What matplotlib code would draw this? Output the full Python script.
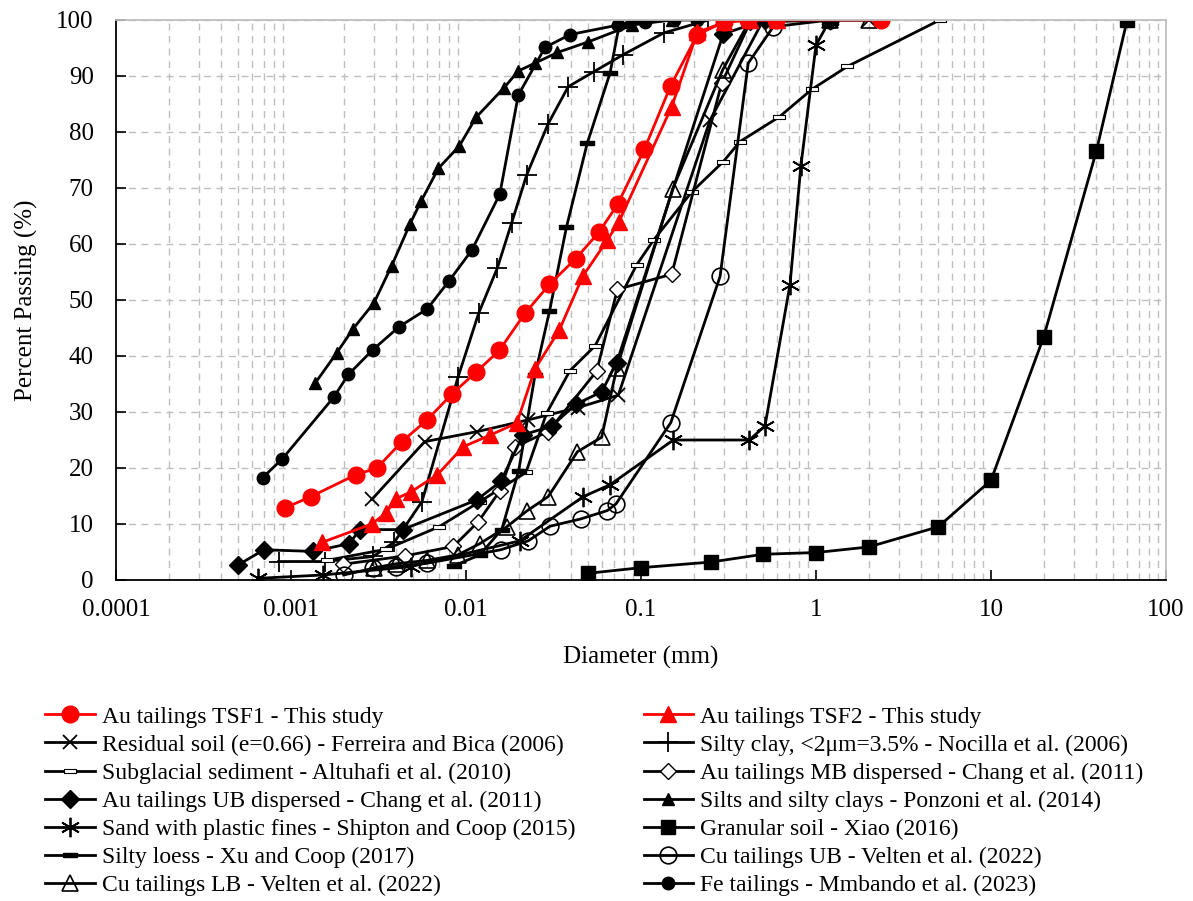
import matplotlib.pyplot as plt
from matplotlib.ticker import FixedLocator, NullFormatter, FuncFormatter, LogLocator

plt.rcParams['font.family'] = ['Liberation Serif', 'DejaVu Serif']

# --- data (diameter in mm, percent passing) ---
tsf1_d = [0.00093, 0.0013, 0.00235, 0.0031, 0.0043, 0.006, 0.0083, 0.0114, 0.0155, 0.0217,
          0.030, 0.0424, 0.0575, 0.0736, 0.1045, 0.148, 0.21, 0.298, 0.41, 0.59, 2.36]
tsf1_p = [12.9, 14.9, 18.8, 20.0, 24.7, 28.6, 33.2, 37.1, 41.0, 47.6,
          52.8, 57.4, 62.1, 67.1, 76.9, 88.3, 97.4, 99.6, 100, 100, 100]

tsf2_d = [0.0015, 0.00289, 0.00348, 0.00397, 0.00483, 0.00686, 0.00966, 0.0138, 0.0195,
          0.0248, 0.0341, 0.0464, 0.0642, 0.0749, 0.1497, 0.21, 0.3, 0.42, 0.6]
tsf2_p = [6.7, 10.0, 11.9, 14.5, 15.7, 18.8, 23.8, 25.9, 28.0,
          37.7, 44.6, 54.2, 60.7, 64.0, 84.5, 97.8, 99.6, 100, 100]

resid_d = [0.0029, 0.0058, 0.0116, 0.0227, 0.0438, 0.0742, 0.248, 0.5, 1.2, 2.0]
resid_p = [14.4, 24.7, 26.5, 28.6, 30.8, 33.0, 82.1, 100, 100, 100]

nocilla_d = [0.00085, 0.00156, 0.00295, 0.0039, 0.0056, 0.009, 0.0118, 0.0151, 0.0182,
             0.0222, 0.0295, 0.0384, 0.054, 0.079, 0.135, 0.243]
nocilla_p = [3.3, 3.3, 4.2, 6.8, 14.0, 36.2, 47.6, 55.7, 63.7,
             72.3, 81.5, 88.1, 90.8, 93.8, 97.7, 100]

subgl_d = [0.0016, 0.0035, 0.007, 0.012, 0.022, 0.0289, 0.0393, 0.0546, 0.0945, 0.118,
           0.195, 0.295, 0.368, 0.617, 0.945, 1.51, 5.1]
subgl_p = [3.5, 5.5, 9.5, 14.0, 19.2, 29.8, 37.4, 41.8, 56.3, 60.7,
           69.3, 74.7, 78.3, 82.7, 87.6, 91.7, 100]

mb_d = [0.00197, 0.00448, 0.00847, 0.01175, 0.0156, 0.0191, 0.0295, 0.0558, 0.0733,
        0.1497, 0.289, 0.42, 1.2]
mb_p = [2.8, 4.3, 6.0, 10.4, 15.9, 23.8, 26.5, 37.3, 51.9, 54.6, 88.7, 99.6, 100]

ub_d = [0.0005, 0.0007, 0.00134, 0.00215, 0.00248, 0.00435, 0.0115, 0.0158, 0.0212,
        0.0309, 0.0425, 0.0596, 0.0726, 0.295, 0.51, 1.2]
ub_p = [2.7, 5.4, 5.1, 6.5, 9.0, 9.0, 14.3, 17.6, 25.9, 27.5, 31.4, 33.6, 38.8, 97.5, 100, 100]

ponz_d = [0.00137, 0.00182, 0.00227, 0.00298, 0.00376, 0.00479, 0.00553, 0.00695, 0.00916,
          0.0114, 0.0165, 0.0199, 0.0248, 0.0333, 0.05, 0.0885, 0.15]
ponz_p = [35.1, 40.5, 44.9, 49.5, 56.1, 63.6, 67.6, 73.5, 77.5,
          82.6, 87.9, 90.9, 92.3, 94.2, 96.1, 99.1, 100]

shipton_d = [0.00065, 0.00153, 0.00485, 0.0203, 0.0468, 0.0665, 0.153, 0.416, 0.511,
             0.71, 0.82, 1.0, 1.2]
shipton_p = [0.3, 0.9, 2.4, 7.0, 14.9, 17.0, 25.0, 25.0, 27.5, 52.7, 74.0, 95.5, 100]

xiao_d = [0.05, 0.1, 0.25, 0.5, 1, 2, 5, 10, 20, 40, 60]
xiao_p = [1.2, 2.2, 3.2, 4.6, 4.9, 5.9, 9.5, 17.8, 43.4, 76.6, 100]

loess_d = [0.0085, 0.012, 0.016, 0.02, 0.0248, 0.030, 0.0375, 0.0493, 0.0665, 0.075, 0.09]
loess_p = [2.5, 4.5, 9.0, 19.5, 36.6, 48.0, 63.0, 78.0, 90.5, 99.0, 100]

cuub_d = [0.002, 0.00295, 0.004, 0.006, 0.0158, 0.0227, 0.0302, 0.0452, 0.0642, 0.072,
          0.148, 0.283, 0.41, 0.57, 1.2]
cuub_p = [0.9, 2.1, 2.4, 3.0, 5.4, 7.0, 9.6, 10.9, 12.4, 13.6, 28.1, 54.2, 92.3, 98.8, 100]

culb_d = [0.003, 0.004, 0.006, 0.009, 0.012, 0.0171, 0.0222, 0.0295, 0.0433, 0.0596,
          0.0726, 0.152, 0.293, 0.42, 1.2, 2.0]
culb_p = [2.2, 2.9, 3.5, 4.5, 6.5, 9.5, 12.3, 14.9, 22.9, 25.5, 37.8, 69.9, 91.1, 100, 100, 100]

fe_d = [0.00069, 0.00089, 0.00175, 0.00213, 0.00293, 0.00414, 0.006, 0.008, 0.0108, 0.0156,
        0.0199, 0.0283, 0.0393, 0.074, 0.105, 0.154, 0.21]
fe_p = [18.3, 21.6, 32.6, 36.7, 41.1, 45.2, 48.4, 53.4, 58.9, 68.9,
        86.6, 95.1, 97.4, 99.1, 99.7, 100, 100]

dash = [(-1, -0.32), (1, -0.32), (1, 0.32), (-1, 0.32), (-1, -0.32)]

fig = plt.figure(figsize=(11.93, 9.01), dpi=100)
ax = fig.add_axes([116 / 1193, 1 - 580 / 901, 1050 / 1193, 560 / 901])

blk = dict(color='black', lw=2.0)
h = {}
h['resid'], = ax.plot(resid_d, resid_p, marker='x', ms=10, mew=1.3, **blk,
                      label='Residual soil (e=0.66) - Ferreira and Bica (2006)')
h['nocilla'], = ax.plot(nocilla_d, nocilla_p, marker='+', ms=14, mew=1.3, **blk,
                        label='Silty clay, <2μm=3.5% - Nocilla et al. (2006)')
h['subgl'], = ax.plot(subgl_d, subgl_p, marker=dash, ms=9, mfc='white', mec='black', mew=0.8, **blk,
                      label='Subglacial sediment - Altuhafi et al. (2010)')
h['mb'], = ax.plot(mb_d, mb_p, marker='D', ms=8, mfc='white', mec='black', mew=1.0, **blk,
                   label='Au tailings MB dispersed - Chang et al. (2011)')
h['ub'], = ax.plot(ub_d, ub_p, marker='D', ms=9, mfc='black', **blk,
                   label='Au tailings UB dispersed - Chang et al. (2011)')
h['ponz'], = ax.plot(ponz_d, ponz_p, marker='^', ms=9, mfc='black', **blk,
                     label='Silts and silty clays - Ponzoni et al. (2014)')
h['shipton'], = ax.plot(shipton_d, shipton_p, marker=(6, 2, 0), ms=14, mew=1.3, **blk,
                        label='Sand with plastic fines - Shipton and Coop (2015)')
h['xiao'], = ax.plot(xiao_d, xiao_p, marker='s', ms=10, mfc='black', **blk,
                     label='Granular soil - Xiao (2016)')
h['loess'], = ax.plot(loess_d, loess_p, marker=dash, ms=10, mfc='black', mec='black', **blk,
                      label='Silty loess - Xu and Coop (2017)')
h['cuub'], = ax.plot(cuub_d, cuub_p, marker='o', ms=12, mfc='none', mec='black', mew=1.2, **blk,
                     label='Cu tailings UB - Velten et al. (2022)')
h['culb'], = ax.plot(culb_d, culb_p, marker='^', ms=12, mfc='none', mec='black', mew=1.2, **blk,
                     label='Cu tailings LB - Velten et al. (2022)')
h['fe'], = ax.plot(fe_d, fe_p, marker='o', ms=9, mfc='black', **blk,
                   label='Fe tailings - Mmbando et al. (2023)')
h['tsf1'], = ax.plot(tsf1_d, tsf1_p, marker='o', ms=12, color='red', lw=2.0,
                     label='Au tailings TSF1 - This study')
h['tsf2'], = ax.plot(tsf2_d, tsf2_p, marker='^', ms=12, color='red', lw=2.0,
                     label='Au tailings TSF2 - This study')

ax.set_xscale('log')
ax.set_xlim(0.0001, 100)
ax.set_ylim(0, 100)
ax.xaxis.set_major_locator(FixedLocator([1e-4, 1e-3, 1e-2, 1e-1, 1, 10, 100]))
ax.xaxis.set_major_formatter(FuncFormatter(lambda v, _: '%g' % v))
ax.xaxis.set_minor_locator(LogLocator(base=10, subs=range(2, 10)))
ax.xaxis.set_minor_formatter(NullFormatter())
ax.set_yticks(range(0, 101, 10))

grid_kw = dict(color='#BFBFBF', lw=1.0, ls=(0, (5, 4)))
ax.grid(which='minor', axis='x', **grid_kw)
ax.grid(which='major', axis='y', **grid_kw)
ax.set_axisbelow(True)

ax.tick_params(axis='x', which='major', direction='in', length=7, width=1.2, pad=14, labelsize=18, top=False)
ax.tick_params(axis='x', which='minor', length=0)
ax.tick_params(axis='y', direction='in', length=7, width=1.2, pad=16, labelsize=18, right=False)
for s in ('left', 'bottom'):
    ax.spines[s].set_color('black')
    ax.spines[s].set_linewidth(1.3)
for s in ('top', 'right'):
    ax.spines[s].set_color('#BFBFBF')
    ax.spines[s].set_linewidth(1.3)

ax.set_xlabel('Diameter (mm)', fontsize=18)
ax.xaxis.set_label_coords(0.5, (580 - 646) / 560)
ax.set_ylabel('Percent Passing (%)', fontsize=18)
ax.yaxis.set_label_coords((38 - 116) / 1050, 0.5)

order = ['tsf1', 'resid', 'subgl', 'ub', 'shipton', 'loess', 'culb',
         'tsf2', 'nocilla', 'mb', 'ponz', 'xiao', 'cuub', 'fe']
leg = fig.legend([h[k] for k in order], [h[k].get_label() for k in order],
                 loc='upper left', bbox_to_anchor=(45 / 1193, 1 - 706 / 901),
                 ncol=2, frameon=False, fontsize=17, borderpad=0, borderaxespad=0,
                 handlelength=2.1, handletextpad=0.3, labelspacing=0.28, columnspacing=2.9)

fig.savefig('out.png', dpi=100)
